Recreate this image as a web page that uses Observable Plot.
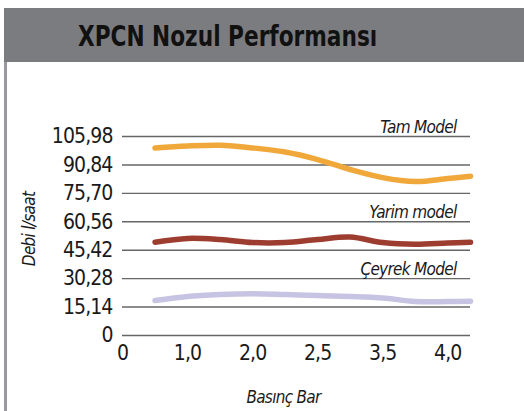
<!DOCTYPE html>
<html><head><meta charset="utf-8">
<script src="https://cdn.jsdelivr.net/npm/d3@7"></script>
<script src="https://cdn.jsdelivr.net/npm/@observablehq/plot@0.6"></script>
<style>
body{margin:0;background:#fff;}
#wrap{position:relative;width:524px;height:411px;overflow:hidden;font-family:"DejaVu Sans Condensed","Liberation Sans",sans-serif;}
#band{position:absolute;left:4px;top:8px;width:520px;height:54px;background:#7b7c80;}
#title{position:absolute;left:78px;top:22px;font-weight:bold;font-size:29px;line-height:29px;color:#111;white-space:nowrap;transform:scaleX(0.83);transform-origin:0 0;}
#border{position:absolute;left:4px;top:62px;width:3px;height:349px;background:#9a9a9e;}
#chart{position:absolute;left:0;top:62px;}
#chart svg g[aria-label="y-axis tick label"] text,
#chart svg g[aria-label="x-axis tick label"] text{letter-spacing:-0.9px;}
#chart svg g.lbl text{letter-spacing:-0.7px;}
</style>
</head><body>
<div id="wrap">
  <div id="band"></div>
  <div id="title">XPCN Nozul Performansı</div>
  <div id="border"></div>
  <div id="chart"></div>
</div>
<script>
const pressureLabels = ["0", "1,0", "2,0", "2,5", "3,5", "4,0"];
const yTicks = [0, 15.14, 30.28, 45.42, 60.56, 75.70, 90.84, 105.98];
const xPos = [0.5, 1, 1.5, 2, 2.5, 3, 3.5, 4, 4.5, 5, 5.35];
const tamModel = [99.8, 100.9, 101.3, 99.9, 97.7, 93.7, 88.4, 84.1, 82.0, 83.6, 84.8];
const yarimModel = [49.7, 51.7, 51.1, 49.5, 49.5, 51.1, 52.4, 49.5, 48.6, 49.3, 49.7];
const ceyrekModel = [18.6, 20.8, 21.8, 22.2, 21.8, 21.3, 20.8, 20.0, 18.1, 18.1, 18.3];
const seriesNames = ["Tam Model", "Yarim model", "Çeyrek Model"];
const labelGrid = [105.98, 60.56, 30.28];
const seriesColors = ["#f0a83a", "#9d3d2f", "#c7c4e3"];

const seriesValues = [tamModel, yarimModel, ceyrekModel];
const data = seriesNames.flatMap((s, k) => xPos.map((x, i) => ({series: s, x, y: seriesValues[k][i]})));
const labels = seriesNames.map((s, k) => ({series: s, y: labelGrid[k]}));
const xMax = xPos[xPos.length - 1];
const fmtY = v => v === 0 ? "0" : v.toFixed(2).replace(".", ",");
const font = '"DejaVu Sans Condensed","Liberation Sans",sans-serif';

const chart = Plot.plot({
  width: 524, height: 349,
  marginLeft: 122, marginRight: 54, marginTop: 74, marginBottom: 76,
  x: {domain: [0, xMax], label: null},
  y: {domain: [0, 105.98], label: null},
  color: {domain: seriesNames, range: seriesColors},
  style: {fontFamily: font, fontSize: "21px", color: "#1a1a1a", background: "transparent", overflow: "visible"},
  marks: [
    Plot.ruleY(yTicks, {stroke: "#666", strokeWidth: 1.4}),
    Plot.axisY({ticks: yTicks, tickSize: 0, tickPadding: 10, tickFormat: fmtY, fontSize: 21, label: null}),
    Plot.axisX({ticks: d3.range(pressureLabels.length), tickSize: 0, tickPadding: 10, tickFormat: i => pressureLabels[i], fontSize: 21, label: null}),
    Plot.line(data, {x: "x", y: "y", z: "series", stroke: "series", strokeWidth: 5.5, curve: "catmull-rom"}),
    Plot.text(labels, {x: () => xMax, y: "y", text: "series", textAnchor: "end", lineAnchor: "bottom", dx: -14, dy: -4, fontStyle: "italic", fontSize: 17, fill: "#1a1a1a", className: "lbl"}),
    Plot.text(["Basınç Bar"], {frameAnchor: "bottom", text: d => d, dx: -13, dy: 67, fontStyle: "italic", fontSize: 17, fill: "#1a1a1a", className: "lbl"}),
    Plot.text(["Debi l/saat"], {frameAnchor: "left", textAnchor: "middle", text: d => d, rotate: -90, dx: -93, dy: -7, fontStyle: "italic", fontSize: 17, fill: "#1a1a1a", className: "lbl"})
  ]
});
document.getElementById("chart").appendChild(chart);
</script>
</body></html>
